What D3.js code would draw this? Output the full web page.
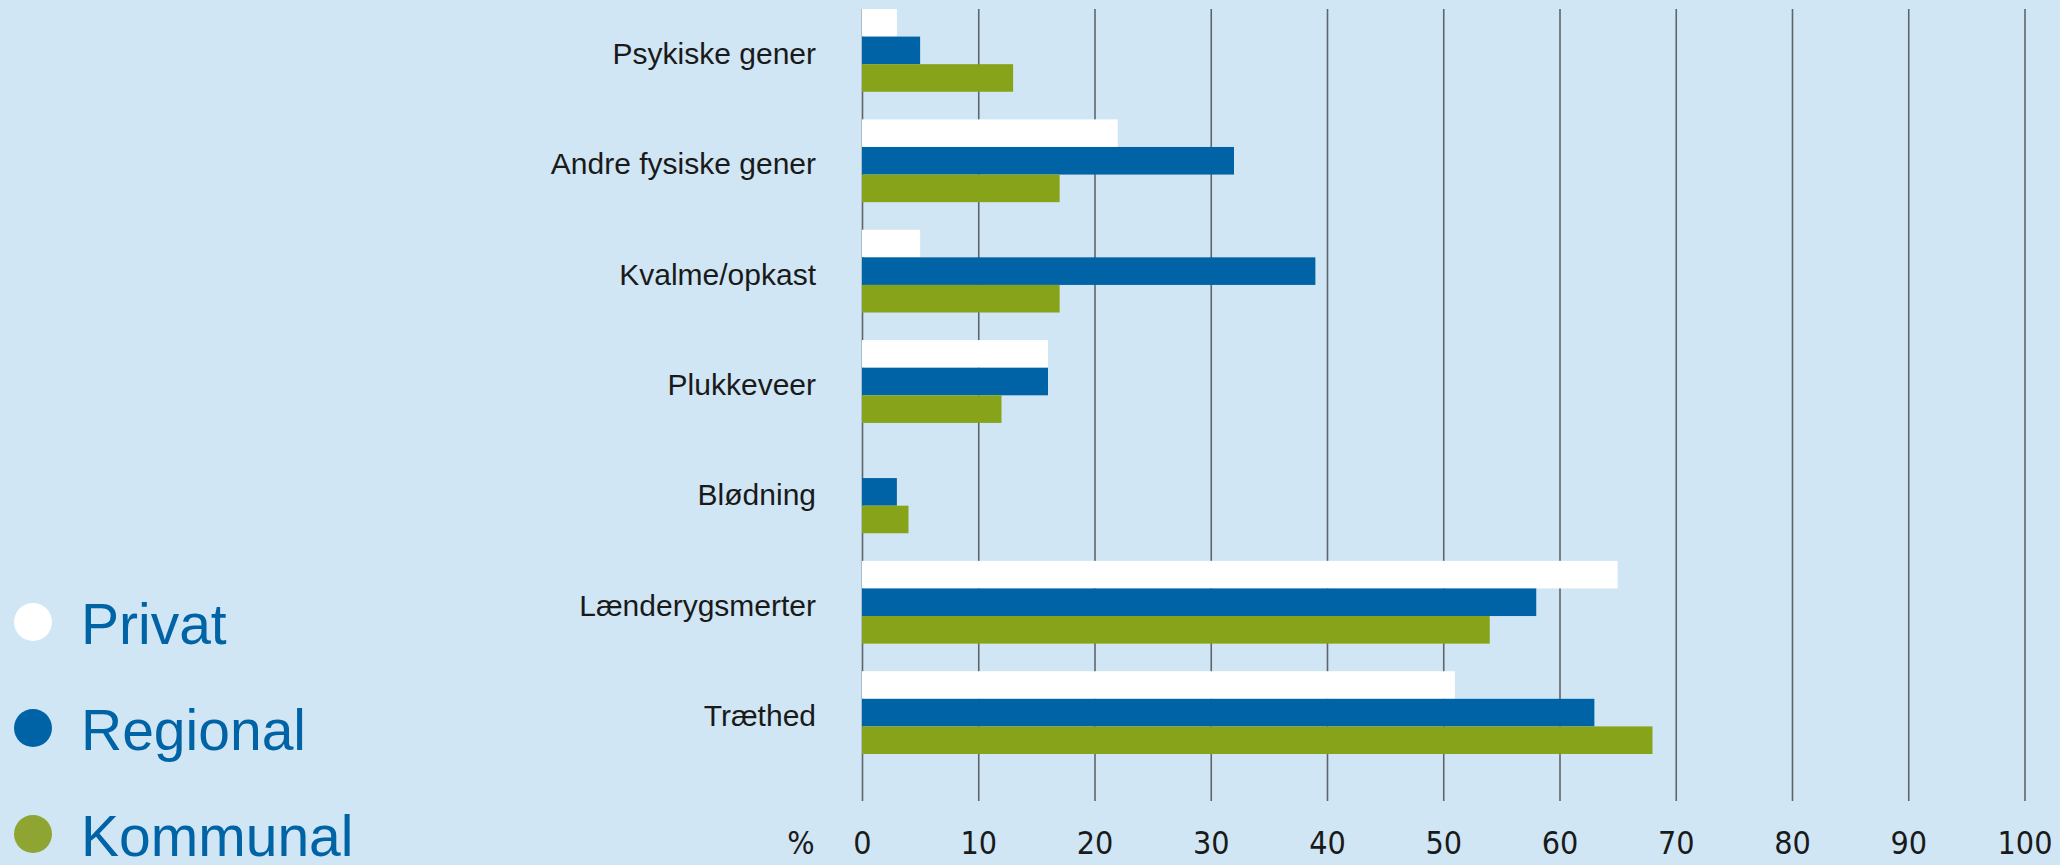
<!DOCTYPE html>
<html>
<head>
<meta charset="utf-8">
<script src="https://cdn.jsdelivr.net/npm/d3@7"></script>
<style>
  html, body { margin: 0; padding: 0; background: #d0e6f4; }
  svg { display: block; }
</style>
</head>
<body>
<script>
var categories = ["Psykiske gener", "Andre fysiske gener", "Kvalme/opkast", "Plukkeveer",
                  "Blødning", "Lænderygsmerter", "Træthed"];
var seriesNames = ["Privat", "Regional", "Kommunal"];
var privat   = [3, 22, 5, 16, 0, 65, 51];
var regional = [5, 32, 39, 16, 3, 58, 63];
var kommunal = [13, 17, 17, 12, 4, 54, 68];
var tickValues = [0, 10, 20, 30, 40, 50, 60, 70, 80, 90, 100];

var colors = ["#ffffff", "#0063a6", "#86a319"];
var legendColors = ["#ffffff", "#0063a6", "#8fa532"];

var width = 2060, height = 865;

var svg = d3.select("body")
            .append("svg")
            .attr("width", width)
            .attr("height", height);

svg.append("rect")
   .attr("width", width)
   .attr("height", height)
   .attr("fill", "#d0e6f4");

var rows = categories.map(function(c, i) {
  return {name: c, values: [privat[i], regional[i], kommunal[i]]};
});

var xScale = d3.scaleLinear()
               .domain([0, 100])
               .range([862, 2024.5]);

var yScale = d3.scaleBand()
               .domain(categories)
               .range([9, 754])
               .paddingInner(0.25)
               .paddingOuter(0);

var ySub = d3.scaleBand()
             .domain(seriesNames)
             .range([0, yScale.bandwidth()]);

var gridBottom = 801;
var labelFont = "'Liberation Sans Narrow', 'DejaVu Sans Condensed', 'Liberation Sans', sans-serif";

// gridlines + tick labels
var axis = svg.append("g")
   .attr("transform", "translate(0," + gridBottom + ")")
   .call(d3.axisBottom(xScale).tickValues(tickValues).tickSize(-(gridBottom - 9)).tickFormat(d3.format("d")));

axis.select(".domain").remove();
axis.selectAll(".tick line")
    .attr("stroke", "#5f656b")
    .attr("stroke-width", 1.6);
axis.selectAll(".tick text")
    .attr("y", 42)
    .attr("dy", "0.35em")
    .attr("fill", "#1a1a1a")
    .style("font-family", labelFont)
    .style("font-size", "32px");

svg.append("text")
   .attr("x", 801)
   .attr("y", gridBottom + 42)
   .attr("dy", "0.35em")
   .attr("text-anchor", "middle")
   .attr("fill", "#1a1a1a")
   .style("font-family", labelFont)
   .style("font-size", "32px")
   .text("%");

// bars
var groups = svg.selectAll(".group")
    .data(rows)
    .enter()
    .append("g")
    .attr("class", "group")
    .attr("transform", function(d) { return "translate(0," + yScale(d.name) + ")"; });

groups.selectAll("rect")
    .data(function(d) { return d.values.map(function(v, i) { return {key: seriesNames[i], value: v, i: i}; }); })
    .enter()
    .append("rect")
    .attr("x", xScale(0))
    .attr("y", function(d) { return ySub(d.key); })
    .attr("width", function(d) { return xScale(d.value) - xScale(0); })
    .attr("height", ySub.bandwidth())
    .attr("fill", function(d) { return colors[d.i]; });

// category labels
svg.selectAll(".cat")
   .data(categories)
   .enter()
   .append("text")
   .attr("class", "cat")
   .attr("x", 816)
   .attr("y", function(d) { return yScale(d) + yScale.bandwidth() / 2 + 3; })
   .attr("dy", "0.35em")
   .attr("text-anchor", "end")
   .attr("fill", "#1a1a1a")
   .style("font-family", "'Liberation Sans', sans-serif")
   .style("font-size", "30px")
   .text(function(d) { return d; });

// legend
var legend = svg.append("g");

legend.selectAll("circle")
      .data(seriesNames)
      .enter()
      .append("circle")
      .attr("cx", 33)
      .attr("cy", function(d, i) { return 622 + i * 106; })
      .attr("r", 19)
      .attr("fill", function(d, i) { return legendColors[i]; });

legend.selectAll("text")
      .data(seriesNames)
      .enter()
      .append("text")
      .attr("x", 81)
      .attr("y", function(d, i) { return 644 + i * 106; })
      .attr("fill", "#0063a6")
      .style("font-family", "'Liberation Sans', Arial, sans-serif")
      .style("font-size", "57px")
      .text(function(d) { return d; });
</script>
</body>
</html>
